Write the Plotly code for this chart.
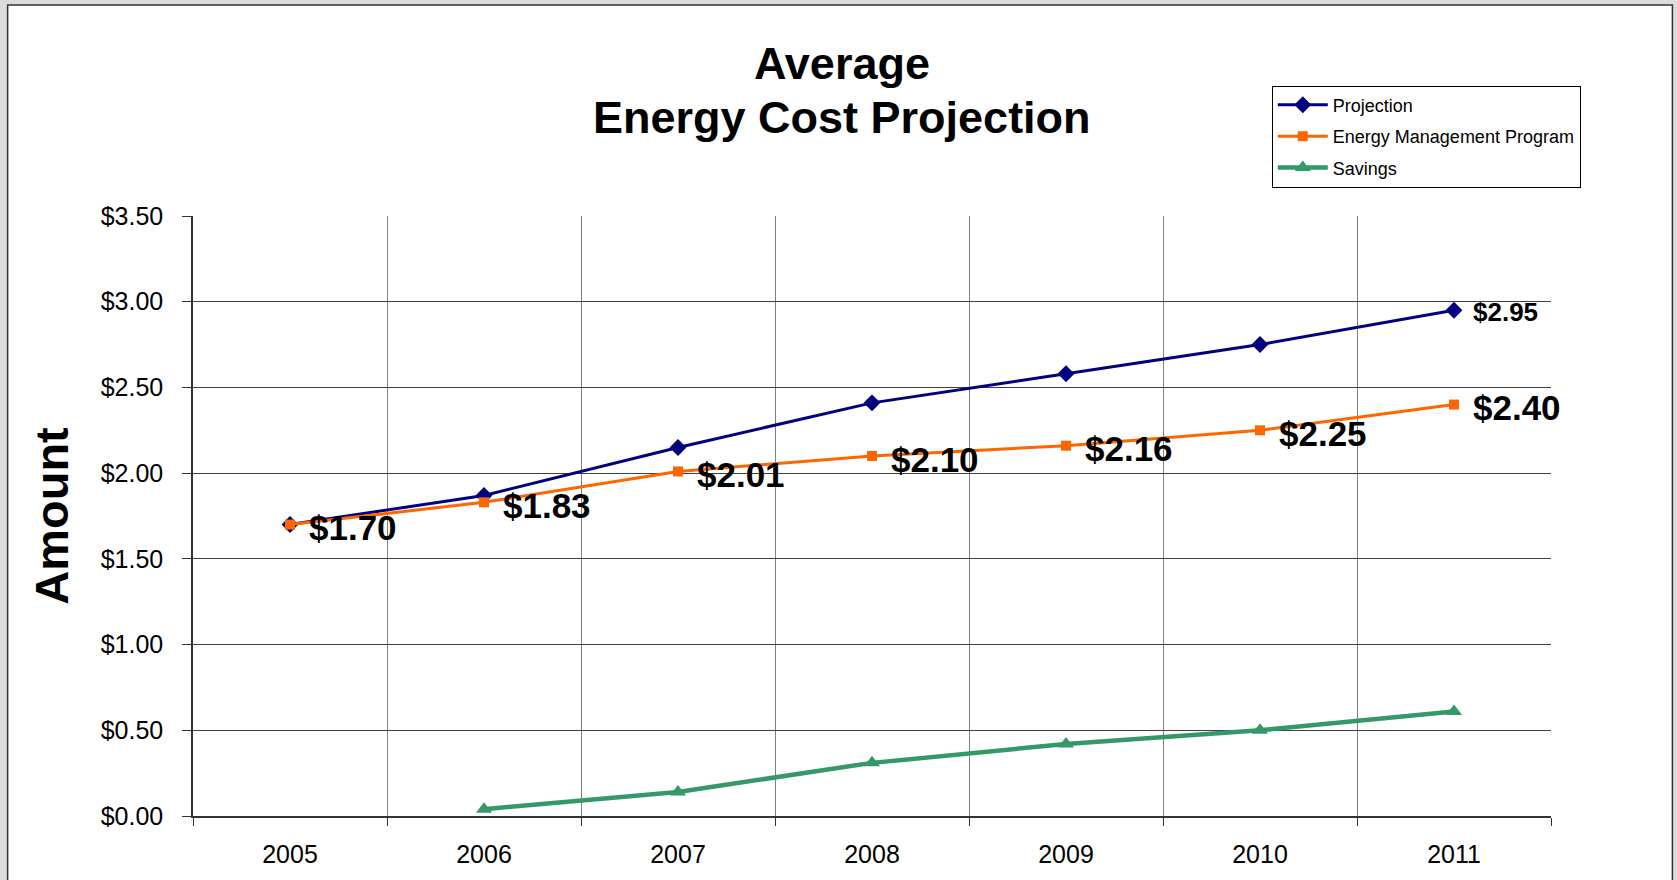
import plotly.graph_objects as go

years = ["2005", "2006", "2007", "2008", "2009", "2010", "2011"]
projection = [1.70, 1.87, 2.15, 2.41, 2.58, 2.75, 2.95]
energy_mgmt = [1.70, 1.83, 2.01, 2.10, 2.16, 2.25, 2.40]
savings_years = ["2006", "2007", "2008", "2009", "2010", "2011"]
savings = [0.04, 0.14, 0.31, 0.42, 0.50, 0.61]

FONT = "Liberation Sans, Arial, sans-serif"
NAVY = "#000080"
ORANGE = "#FF6600"
GREEN = "#339966"

fig = go.Figure()
fig.add_trace(go.Scatter(
    x=years, y=projection, name="Projection", mode="lines+markers",
    line=dict(color=NAVY, width=3), marker=dict(symbol="diamond", size=13, color=NAVY),
    legendgroup="a"))
fig.add_trace(go.Scatter(
    x=years, y=energy_mgmt, name="Energy Management Program", mode="lines+markers",
    line=dict(color=ORANGE, width=3), marker=dict(symbol="square", size=10, color=ORANGE),
    legendgroup="b"))
fig.add_trace(go.Scatter(
    x=savings_years, y=savings, name="Savings", mode="lines+markers",
    line=dict(color=GREEN, width=4.5), marker=dict(symbol="triangle-up", size=14, color=GREEN),
    legendgroup="c"))

annotations = []
for i, v in enumerate(energy_mgmt):
    annotations.append(dict(
        x=i, y=v, xref="x", yref="y", text=f"${v:.2f}", showarrow=False,
        xanchor="left", yanchor="middle", xshift=17, yshift=-3,
        font=dict(family=FONT, size=35, color="black", weight="bold")))
annotations.append(dict(
    x=len(years) - 1, y=projection[-1], xref="x", yref="y", text=f"${projection[-1]:.2f}",
    showarrow=False, xanchor="left", yanchor="middle", xshift=17, yshift=-2,
    font=dict(family=FONT, size=26, color="black", weight="bold")))

# Title lines
annotations.append(dict(
    x=0.4777, y=1, xref="paper", yref="paper", yshift=153, text="Average",
    showarrow=False, xanchor="center", yanchor="middle",
    font=dict(family=FONT, size=45, color="black", weight="bold")))
annotations.append(dict(
    x=0.4777, y=1, xref="paper", yref="paper", yshift=99, text="Energy Cost Projection",
    showarrow=False, xanchor="center", yanchor="middle",
    font=dict(family=FONT, size=45, color="black", weight="bold")))

shapes = [dict(
    type="rect", xref="paper", yref="paper",
    x0=-0.1365, x1=1.0894, y0=-0.2, y1=1.3517,
    line=dict(color="#333333", width=1.5), fillcolor="white", layer="below")]

fig.update_layout(
    width=1677, height=880,
    margin=dict(l=193, r=126, t=216, b=64),
    paper_bgcolor="#dcdcdc", plot_bgcolor="rgba(0,0,0,0)",
    font=dict(family=FONT, color="black"),
    showlegend=True,
    legend=dict(
        x=0.7944, y=1.2173, xanchor="left", yanchor="top",
        bgcolor="white", bordercolor="black", borderwidth=1,
        font=dict(family=FONT, size=18, color="black"),
        tracegroupgap=5, traceorder="grouped", itemwidth=50),
    annotations=annotations,
    shapes=shapes,
    xaxis=dict(
        type="category", tickson="boundaries", showgrid=True, gridcolor="#808080", gridwidth=1,
        ticks="outside", ticklen=8, tickcolor="#333333",
        showline=True, linecolor="#333333", linewidth=1.5,
        tickfont=dict(family=FONT, size=25, color="black"),
        ticklabelstandoff=15,
        range=[-0.5, 6.5]),
    yaxis=dict(
        range=[0, 3.5], dtick=0.5, tickformat="$.2f",
        showgrid=True, gridcolor="#404040", gridwidth=1, zeroline=False,
        ticks="outside", ticklen=9, tickcolor="#333333",
        showline=True, linecolor="#333333", linewidth=1.5,
        tickfont=dict(family=FONT, size=25, color="black"),
        ticklabelstandoff=14,
        title=dict(text="Amount", standoff=17,
                   font=dict(family=FONT, size=47, color="black", weight="bold"))),
)

fig.write_html("out.html", config={"displayModeBar": False},
               post_script="document.body.style.margin='0';")
